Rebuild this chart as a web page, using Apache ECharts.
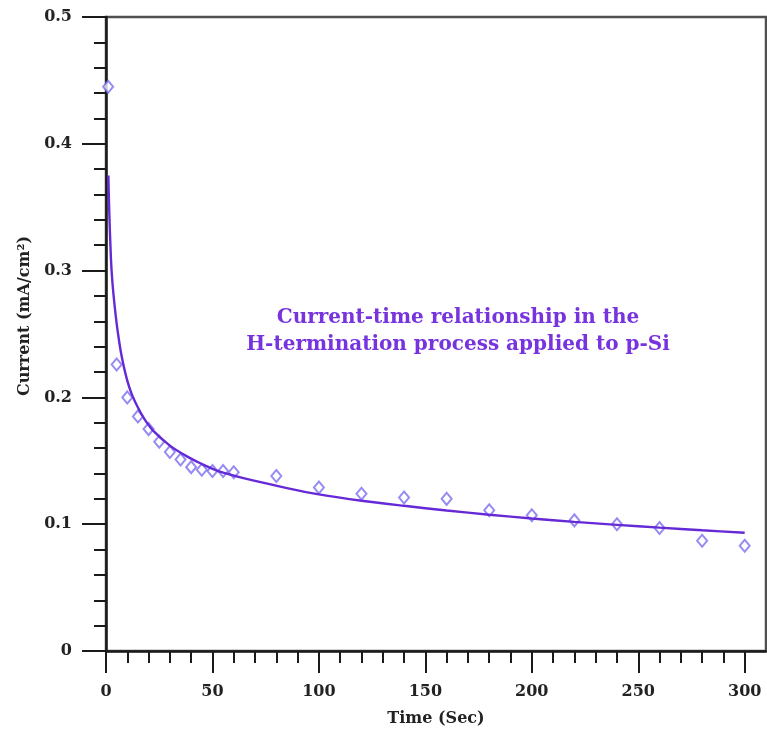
<!DOCTYPE html>
<html>
<head>
<meta charset="utf-8">
<script src="https://cdn.jsdelivr.net/npm/echarts@6/dist/echarts.min.js"></script>
<style>
html,body{margin:0;padding:0;background:#fff;}
#chart{width:767px;height:735px;}
</style>
</head>
<body>
<div id="chart"></div>
<script>
// Measured points (diamonds)
const timeSec = [1, 5, 10, 15, 20, 25, 30, 35, 40, 45, 50, 55, 60, 80, 100, 120, 140, 160, 180, 200, 220, 240, 260, 280, 300];
const currentMeasured = [0.445, 0.226, 0.200, 0.185, 0.175, 0.165, 0.157, 0.151, 0.145, 0.143, 0.142, 0.142, 0.141, 0.138, 0.129, 0.124, 0.121, 0.120, 0.111, 0.107, 0.103, 0.100, 0.097, 0.087, 0.083];
// Fitted curve
const fitTime = [1.1, 1.5, 2.3, 3, 4.2, 5.5, 7.4, 9.7, 12, 15, 18, 22, 30, 38, 45, 53.5, 69, 85, 100, 120, 140, 160, 180, 200, 220, 240, 260, 280, 300];
const fitCurrent = [0.375, 0.348, 0.310, 0.291, 0.270, 0.252, 0.232, 0.215, 0.203, 0.192, 0.183, 0.174, 0.162, 0.1535, 0.1475, 0.1415, 0.1345, 0.1285, 0.1235, 0.1185, 0.1145, 0.1108, 0.1075, 0.1045, 0.1018, 0.0995, 0.0973, 0.0952, 0.0933];
// Tick values
const xMajorTicks = [0, 50, 100, 150, 200, 250, 300];
const xMinorTicks = [0,10,20,30,40,50,60,70,80,90,100,110,120,130,140,150,160,170,180,190,200,210,220,230,240,250,260,270,280,290,300];
const annotationLines = ['Current-time relationship in the', 'H-termination process applied to p-Si'];
const xTitle = 'Time (Sec)';
const yTitle = 'Current (mA/cm²)';

const FONT = 'DejaVu Serif';
const axisColor = '#1a1a1a';

const chart = echarts.init(document.getElementById('chart'), null, {renderer: 'canvas'});
const option = {
  animation: false,
  backgroundColor: '#ffffff',
  grid: {
    left: 106, right: 1, top: 17, bottom: 84,
    show: true, borderColor: '#505050', borderWidth: 2.5,
    containLabel: false, outerBoundsMode: 'none'
  },
  xAxis: [
    {
      type: 'value', min: 0, max: 310, position: 'bottom',
      name: xTitle, nameLocation: 'middle', nameGap: 60,
      nameTextStyle: {fontFamily: FONT, fontWeight: 'bold', fontSize: 16, color: '#222'},
      axisLine: {show: true, onZero: false, lineStyle: {color: axisColor, width: 2.5}},
      axisTick: {show: true, length: 22, customValues: xMajorTicks, lineStyle: {color: axisColor, width: 2}},
      axisLabel: {show: true, margin: 33, customValues: xMajorTicks, fontFamily: FONT, fontWeight: 'bold', fontSize: 16, color: '#222'},
      splitLine: {show: false}
    },
    {
      type: 'value', min: 0, max: 310, position: 'bottom', offset: 0,
      axisLine: {show: false},
      axisTick: {show: true, length: 12, customValues: xMinorTicks, lineStyle: {color: axisColor, width: 2}},
      axisLabel: {show: false},
      splitLine: {show: false}
    }
  ],
  yAxis: {
    type: 'value', min: 0, max: 0.5, interval: 0.1,
    name: yTitle, nameLocation: 'middle', nameGap: 66, nameRotate: 90,
    nameTextStyle: {fontFamily: FONT, fontWeight: 'bold', fontSize: 16, color: '#222', padding: [0, 0, 0, 36]},
    axisLine: {show: true, onZero: false, lineStyle: {color: axisColor, width: 2.5}},
    axisTick: {show: true, length: 24, lineStyle: {color: axisColor, width: 2}},
    minorTick: {show: true, splitNumber: 5, length: 12, lineStyle: {color: axisColor, width: 2}},
    axisLabel: {margin: 34, fontFamily: FONT, fontWeight: 'bold', fontSize: 16, color: '#222'},
    splitLine: {show: false}
  },
  graphic: [
    {
      type: 'text', x: 458, y: 318, z: 100,
      style: {text: annotationLines[0], font: 'bold 20px "DejaVu Serif"', fill: '#7633de',
              textAlign: 'center', textVerticalAlign: 'middle', align: 'center', verticalAlign: 'middle'}
    },
    {
      type: 'text', x: 458, y: 345, z: 100,
      style: {text: annotationLines[1], font: 'bold 20px "DejaVu Serif"', fill: '#7633de',
              textAlign: 'center', textVerticalAlign: 'middle', align: 'center', verticalAlign: 'middle'}
    }
  ],
  series: [
    {
      type: 'scatter', xAxisIndex: 0, yAxisIndex: 0,
      data: timeSec.map((t, i) => [t, currentMeasured[i]]),
      symbol: 'emptyDiamond', symbolSize: [10, 12],
      itemStyle: {color: '#7b6ef0', borderWidth: 1.6},
      z: 2
    },
    {
      type: 'line', xAxisIndex: 0, yAxisIndex: 0,
      data: fitTime.map((t, i) => [t, fitCurrent[i]]),
      smooth: 0.3, showSymbol: false, symbol: 'none',
      lineStyle: {color: '#6629d6', width: 2.4},
      z: 3
    }
  ]
};
chart.setOption(option);
</script>
</body>
</html>
